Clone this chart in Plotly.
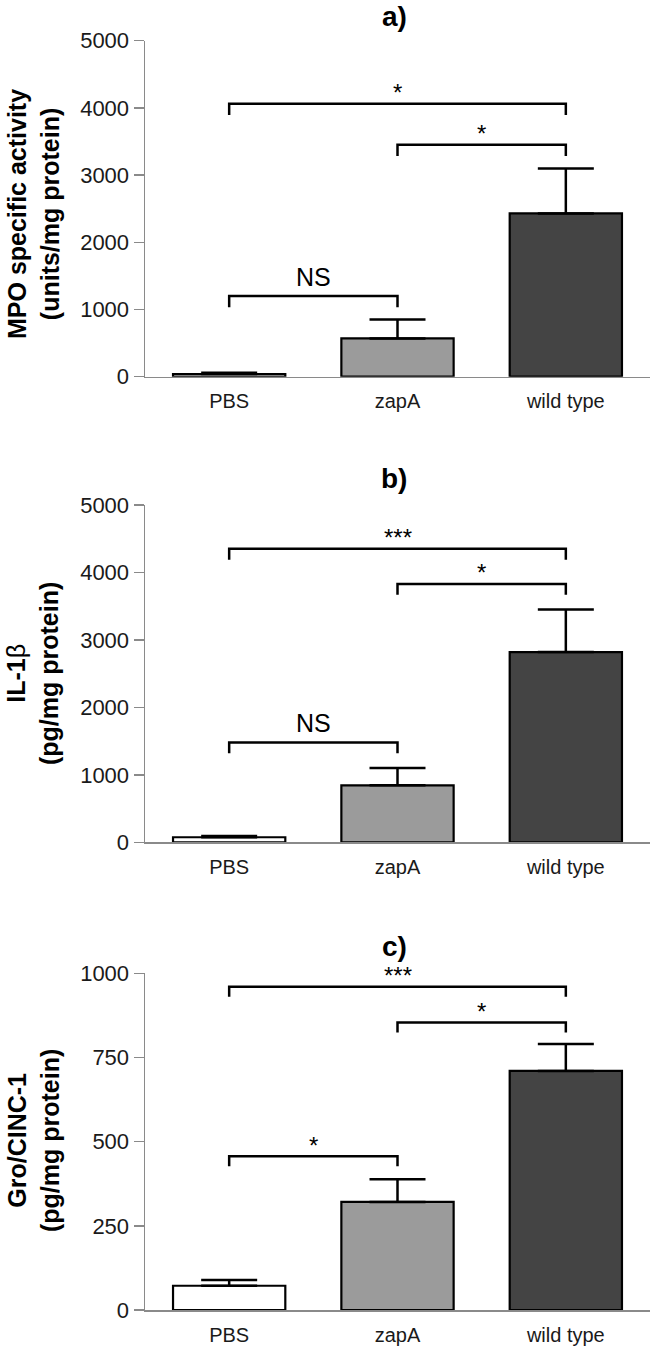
import plotly.graph_objects as go

# ---------------- data ----------------
categories = ["PBS", "zapA", "wild type"]
cat_pos = [0, 1, 2]

mpo_mean = [40, 570, 2430]
mpo_sem = [20, 280, 670]

il1b_mean = [75, 845, 2820]
il1b_sem = [20, 255, 630]

gro_mean = [72, 321, 710]
gro_sem = [17, 67, 80]

# brackets: (from category index, to category index, bracket height, label)
mpo_brackets = [(0, 2, 4060, "*"), (1, 2, 3450, "*"), (0, 1, 1200, "NS")]
il1b_brackets = [(0, 2, 4350, "***"), (1, 2, 3830, "*"), (0, 1, 1480, "NS")]
gro_brackets = [(0, 2, 960, "***"), (1, 2, 854, "*"), (0, 1, 457, "*")]

mpo_ticks = [0, 1000, 2000, 3000, 4000, 5000]
il1b_ticks = [0, 1000, 2000, 3000, 4000, 5000]
gro_ticks = [0, 250, 500, 750, 1000]

panel_letters = ["a)", "b)", "c)"]
y_titles = [
    "<b>MPO specific activity</b><br><b>(units/mg protein)</b>",
    "<b>IL-1</b>β<br><b>(pg/mg protein)</b>",
    "<b>Gro/CINC-1</b><br><b>(pg/mg protein)</b>",
]

# ---------------- layout constants ----------------
W, H = 650, 1347
L = 145
bar_colors = ["#ffffff", "#9b9b9b", "#444444"]
axis_gray = "#8a8a8a"
FONT = "Liberation Sans, Arial, sans-serif"

def py(px):
    return 1 - px / H

# pixel positions (top, bottom) of each panel's plot area
panel_px = [(40.7, 376.7), (505.0, 842.3), (973.3, 1310.0)]
title_px = [17, 479, 946]
ytitle_center_px = [214, 674, 1141]

panels = [
    (mpo_mean, mpo_sem, mpo_brackets, mpo_ticks, 5000, 165),
    (il1b_mean, il1b_sem, il1b_brackets, il1b_ticks, 5000, 160),
    (gro_mean, gro_sem, gro_brackets, gro_ticks, 1000, 30),
]

fig = go.Figure()
annotations = []
layout_axes = {}

for i, (mean, sem, brackets, ticks, ymax, leg) in enumerate(panels):
    n = "" if i == 0 else str(i + 1)
    xa, ya = "x" + n, "y" + n
    fig.add_trace(go.Bar(
        x=cat_pos, y=mean, width=0.667,
        marker=dict(color=bar_colors, line=dict(color="black", width=2.2)),
        error_y=dict(type="data", symmetric=False, array=sem,
                     arrayminus=[0] * len(sem), color="black",
                     thickness=2.5, width=28),
        xaxis=xa, yaxis=ya, showlegend=False, hoverinfo="skip",
    ))
    for (a, b, top, label) in brackets:
        fig.add_trace(go.Scatter(
            x=[a, a, b, b], y=[top - leg, top, top, top - leg],
            mode="lines", line=dict(color="black", width=2.5),
            xaxis=xa, yaxis=ya, showlegend=False, hoverinfo="skip",
            cliponaxis=False,
        ))
        annotations.append(dict(
            x=(a + b) / 2, y=top, xref=xa, yref=ya, text=label,
            showarrow=False, yanchor="middle",
            yshift=(19 if label == "NS" else 11),
            font=dict(family=FONT, size=(25 if label == "NS" else 24), color="black"),
        ))
    top_px, bot_px = panel_px[i]
    dom = [py(bot_px), py(top_px)]
    layout_axes["xaxis" + n] = dict(
        domain=[0, 1], anchor=ya, range=[-0.5, 2.5],
        tickvals=cat_pos, ticktext=categories,
        showline=True, linecolor=axis_gray, linewidth=1.5,
        ticks="outside", ticklen=6, tickcolor="rgba(0,0,0,0)",
        showgrid=False, zeroline=False, fixedrange=True, automargin=False,
        tickfont=dict(family=FONT, size=20, color="#1a1a1a"),
    )
    layout_axes["yaxis" + n] = dict(
        domain=dom, anchor=xa, range=[0, ymax],
        tickvals=ticks, ticktext=[str(t) for t in ticks],
        showline=True, linecolor=axis_gray, linewidth=1.5,
        ticks="outside", ticklen=10, tickcolor=axis_gray, tickwidth=1.5,
        showgrid=False, zeroline=False, fixedrange=True, automargin=False,
        tickfont=dict(family=FONT, size=22, color="#1a1a1a"),
    )
    annotations.append(dict(
        x=(394 - L) / (W - L), y=py(title_px[i]), xref="paper", yref="paper",
        text="<b>" + panel_letters[i] + "</b>", showarrow=False,
        xanchor="center", yanchor="middle",
        font=dict(family=FONT, size=28, color="black"),
    ))
    annotations.append(dict(
        x=(33 - L) / (W - L), y=py(ytitle_center_px[i]), xref="paper", yref="paper",
        text=y_titles[i], showarrow=False, textangle=-90,
        xanchor="center", yanchor="middle",
        font=dict(family=FONT, size=25, color="black"),
    ))

fig.update_layout(
    width=W, height=H,
    margin=dict(l=L, r=0, t=0, b=0, autoexpand=False),
    paper_bgcolor="white", plot_bgcolor="white",
    annotations=annotations,
    bargap=0,
    **layout_axes,
)

fig.write_html(
    "out.html",
    config={"displayModeBar": False, "staticPlot": True},
    post_script="document.body.style.margin='0';document.body.style.overflow='hidden';",
)
